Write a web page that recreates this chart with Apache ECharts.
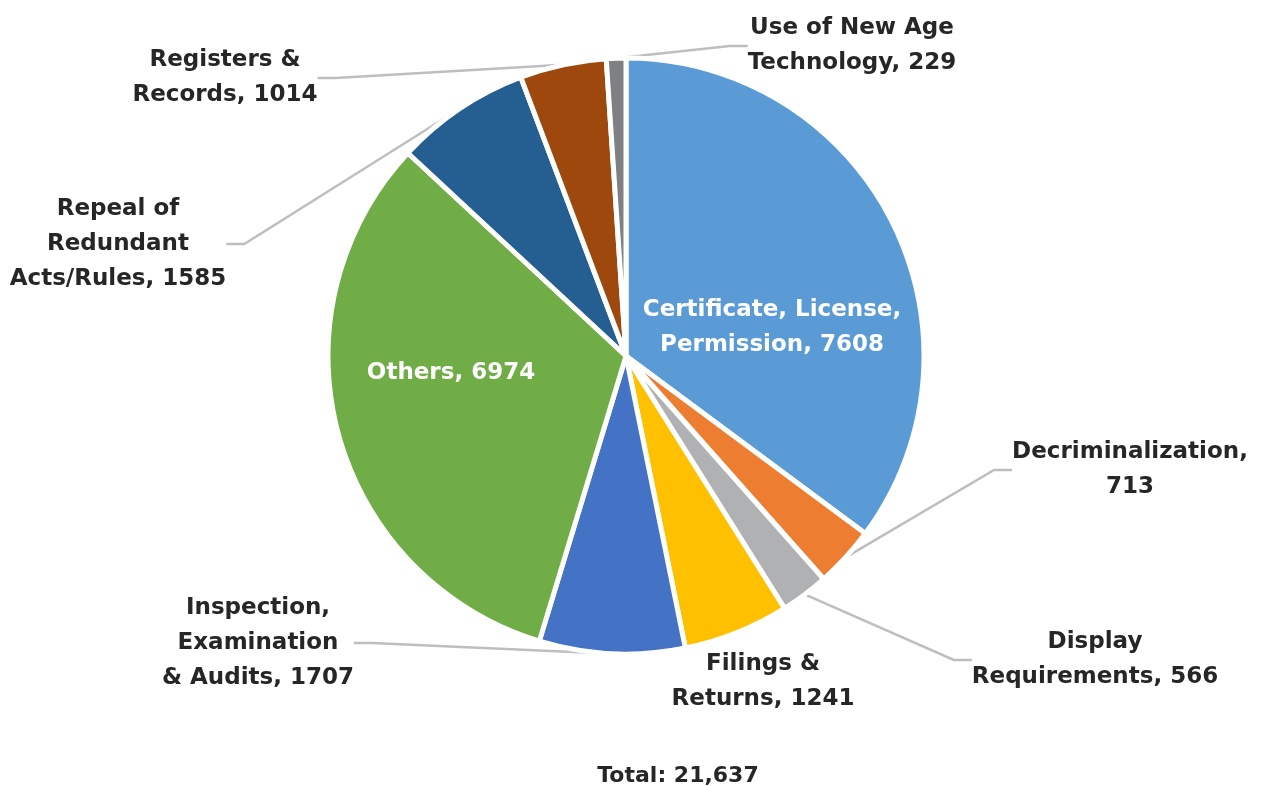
<!DOCTYPE html>
<html>
<head>
<meta charset="utf-8">
<script src="https://cdn.jsdelivr.net/npm/echarts@6/dist/echarts.min.js"></script>
<style>
html,body{margin:0;padding:0;background:#fff;}
#chart{width:1265px;height:786px;}
</style>
</head>
<body>
<div id="chart"></div>
<script>
// ---- data ----
const categories = [
  'Certificate, License,\nPermission',
  'Decriminalization,\n',
  'Display\nRequirements',
  'Filings &\nReturns',
  'Inspection,\nExamination\n& Audits',
  'Others',
  'Repeal of\nRedundant\nActs/Rules',
  'Registers &\nRecords',
  'Use of New Age\nTechnology'
];
const values = [7608, 713, 566, 1241, 1707, 6974, 1585, 1014, 229];
const colors = ['#5B9BD5', '#ED7D31', '#B0B1B3', '#FFC000', '#4472C4', '#70AD47', '#255E91', '#9E480E', '#7F8084'];
const totalText = 'Total: 21,637';

// ---- label placement (text centres) ----
const labelPos = [
  [772, 328], [1130, 470], [1095, 660], [763, 682], [258, 643],
  [451, 373], [118, 244], [225, 78], [852, 46]
];
const insideIdx = [0, 5];
const noLineIdx = [3];

const FONT = 'DejaVu Sans';

const chart = echarts.init(document.getElementById('chart'), null, {renderer: 'canvas'});

const data = values.map((v, i) => {
  const inside = insideIdx.includes(i);
  return {
    name: categories[i],
    value: v,
    itemStyle: {color: colors[i]},
    label: inside ? {color: '#ffffff'} : {color: '#262626'},
    labelLine: {show: !inside && !noLineIdx.includes(i)}
  };
});

chart.setOption({
  animation: false,
  title: {
    text: totalText,
    left: 673, top: 760,
    textAlign: 'center',
    textStyle: {fontFamily: FONT, fontWeight: 'bold', fontSize: 22, color: '#262626'}
  },
  series: [{
    type: 'pie',
    center: [626, 356],
    radius: [0, 298],
    startAngle: 90,
    clockwise: true,
    silent: true,
    data: data,
    itemStyle: {borderColor: '#ffffff', borderWidth: 5},
    label: {
      show: true,
      position: 'outside',
      fontFamily: FONT,
      fontWeight: 'bold',
      fontSize: 23,
      lineHeight: 35,
      align: 'center',
      formatter: p => {
        const n = p.name;
        return n.endsWith('\n') ? n + p.value : n + ', ' + p.value;
      }
    },
    labelLine: {
      show: true,
      length: 20,
      length2: 18,
      lineStyle: {color: '#BDBEC0', width: 2.5}
    },
    labelLayout: function (params) {
      const p = labelPos[params.dataIndex];
      return {x: p[0], y: p[1], align: 'center', verticalAlign: 'middle'};
    }
  }]
});
</script>
</body>
</html>
